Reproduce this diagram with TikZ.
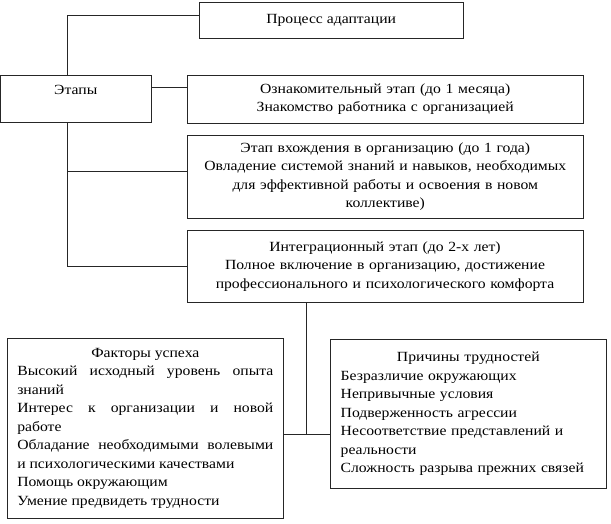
\documentclass[tikz,border=0pt]{standalone}
\usepackage{fontspec}
\setmainfont{Liberation Serif}[FakeStretch=1.12]
\setlength{\parindent}{0pt}

\tikzset{
  box/.style={draw=black!85, line width=0.9pt, inner sep=4pt, font=\fontsize{14}{18.5}\selectfont},
  link/.style={draw=black!85, line width=0.9pt}
}

\begin{document}
\begin{tikzpicture}[x=1pt, y=-1pt]
    % Fix the page to the size of the reference
    \useasboundingbox (0,0) rectangle (611,523);

    % Draw the top box and the stages box
    \node[box, minimum width=264.5pt, minimum height=35.8pt] (process) at (331.2,20.6) {Процесс адаптации};
    \node[box, minimum width=150.5pt, minimum height=47.3pt, text height=10pt, text depth=18pt] (stages) at (75.75,98.7) {Этапы};

    % Draw the three stages
    \node[box, text width=387.7pt, align=center, minimum height=48.3pt] (stage1) at (385.2,99.2)
        {Ознакомительный этап (до 1 месяца)\\Знакомство работника с организацией};
    \node[box, text width=388pt, align=center, minimum height=83pt] (stage2) at (385.3,176.5)
        {Этап вхождения в организацию (до 1 года)\\Овладение системой знаний и навыков, необходимых\\для эффективной работы и освоения в новом\\коллективе)};
    \node[box, text width=388pt, align=center, minimum height=71.6pt] (stage3) at (385,266.5)
        {Интеграционный этап (до 2-х лет)\\Полное включение в организацию, достижение\\профессионального и психологического комфорта};

    % Draw the two boxes at the bottom
    \node[box, inner xsep=10pt, text width=256pt, align=justify, minimum height=180pt] (factors) at (145.3,428.3)
        {\centerline{Факторы успеха}
         Высокий исходный уровень опыта\linebreak знаний\par
         Интерес к организации и новой\linebreak работе\par
         Обладание необходимыми волевыми\linebreak и психологическими качествами\par
         Помощь окружающим\par
         Умение предвидеть трудности};
    \node[box, inner xsep=10pt, text width=255.3pt, align=left, minimum height=149pt] (causes) at (468.35,413.8)
        {\centerline{Причины трудностей}
         Безразличие окружающих\par
         Непривычные условия\par
         Подверженность агрессии\par
         Несоответствие представлений и реальности\par
         Сложность разрыва прежних связей};

    % Draw the connectors
    \coordinate (spine) at (67.7,0);
    \coordinate (s1) at ([yshift=11.4pt]stages.east);
    \coordinate (s2) at ([yshift=4.8pt]stage2.west);
    \coordinate (hub) at (306.7,434.3);
    \draw[link] ([yshift=5.6pt]process.west) -| (spine |- stages.north);
    \draw[link] (s1) -- (s1 -| stage1.west);
    \draw[link] (spine |- stages.south) |- (stage3.west);
    \draw[link] (s2 -| spine) -- (s2);
    \draw[link] (hub |- stage3.south) -- (hub);
    \draw[link] (hub -| factors.east) -- (hub -| causes.west);
\end{tikzpicture}
\end{document}
